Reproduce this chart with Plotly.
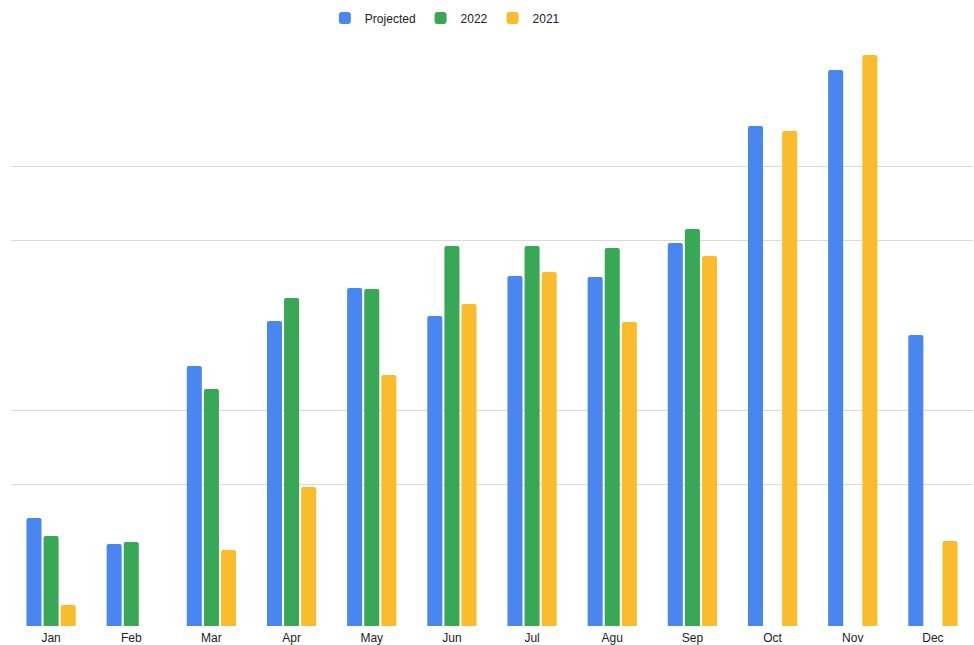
import plotly.graph_objects as go

months = ["Jan", "Feb", "Mar", "Apr", "May", "Jun", "Jul", "Agu", "Sep", "Oct", "Nov", "Dec"]
projected = [108, 82, 260, 305, 338, 310, 350, 349, 383, 500, 556, 291]
y2022 = [90, 84, 237, 328, 337, 380, 380, 378, 397, None, None, None]
y2021 = [21, None, 76, 139, 251, 322, 354, 304, 370, 495, 571, 85]
grid_vals = [142, 216, 386, 460]

fig = go.Figure()
fig.add_trace(go.Bar(name="Projected", x=months, y=projected, marker_color="#4A86F0"))
fig.add_trace(go.Bar(name="2022", x=months, y=y2022, marker_color="#38A856"))
fig.add_trace(go.Bar(name="2021", x=months, y=y2021, marker_color="#FABC2D"))

fig.update_traces(marker_line_width=0)

fig.update_layout(
    width=974, height=645,
    margin=dict(l=11, r=1, t=40, b=19),
    paper_bgcolor="white", plot_bgcolor="white",
    barmode="group", bargap=0.36, bargroupgap=0.12,
    barcornerradius=2,
    font=dict(family="Liberation Sans, Arial, sans-serif", size=12, color="#222222"),
    legend=dict(orientation="h", x=0.451, xanchor="center", y=1.0375, yanchor="middle",
                font=dict(size=12, color="#222222"), traceorder="normal"),
    showlegend=True,
)
fig.update_xaxes(showgrid=False, showline=False, zeroline=False, ticks="",
                 automargin=False, ticklabelstandoff=3,
                 tickfont=dict(size=12, color="#222222"))
fig.update_yaxes(range=[0, 586], tickvals=grid_vals, showticklabels=False,
                 gridcolor="#DADADA", gridwidth=1, zeroline=False, showline=False,
                 automargin=False)

fig.write_html("out.html", config={"displayModeBar": False},
               post_script="document.body.style.margin='0';document.body.style.overflow='hidden';")
